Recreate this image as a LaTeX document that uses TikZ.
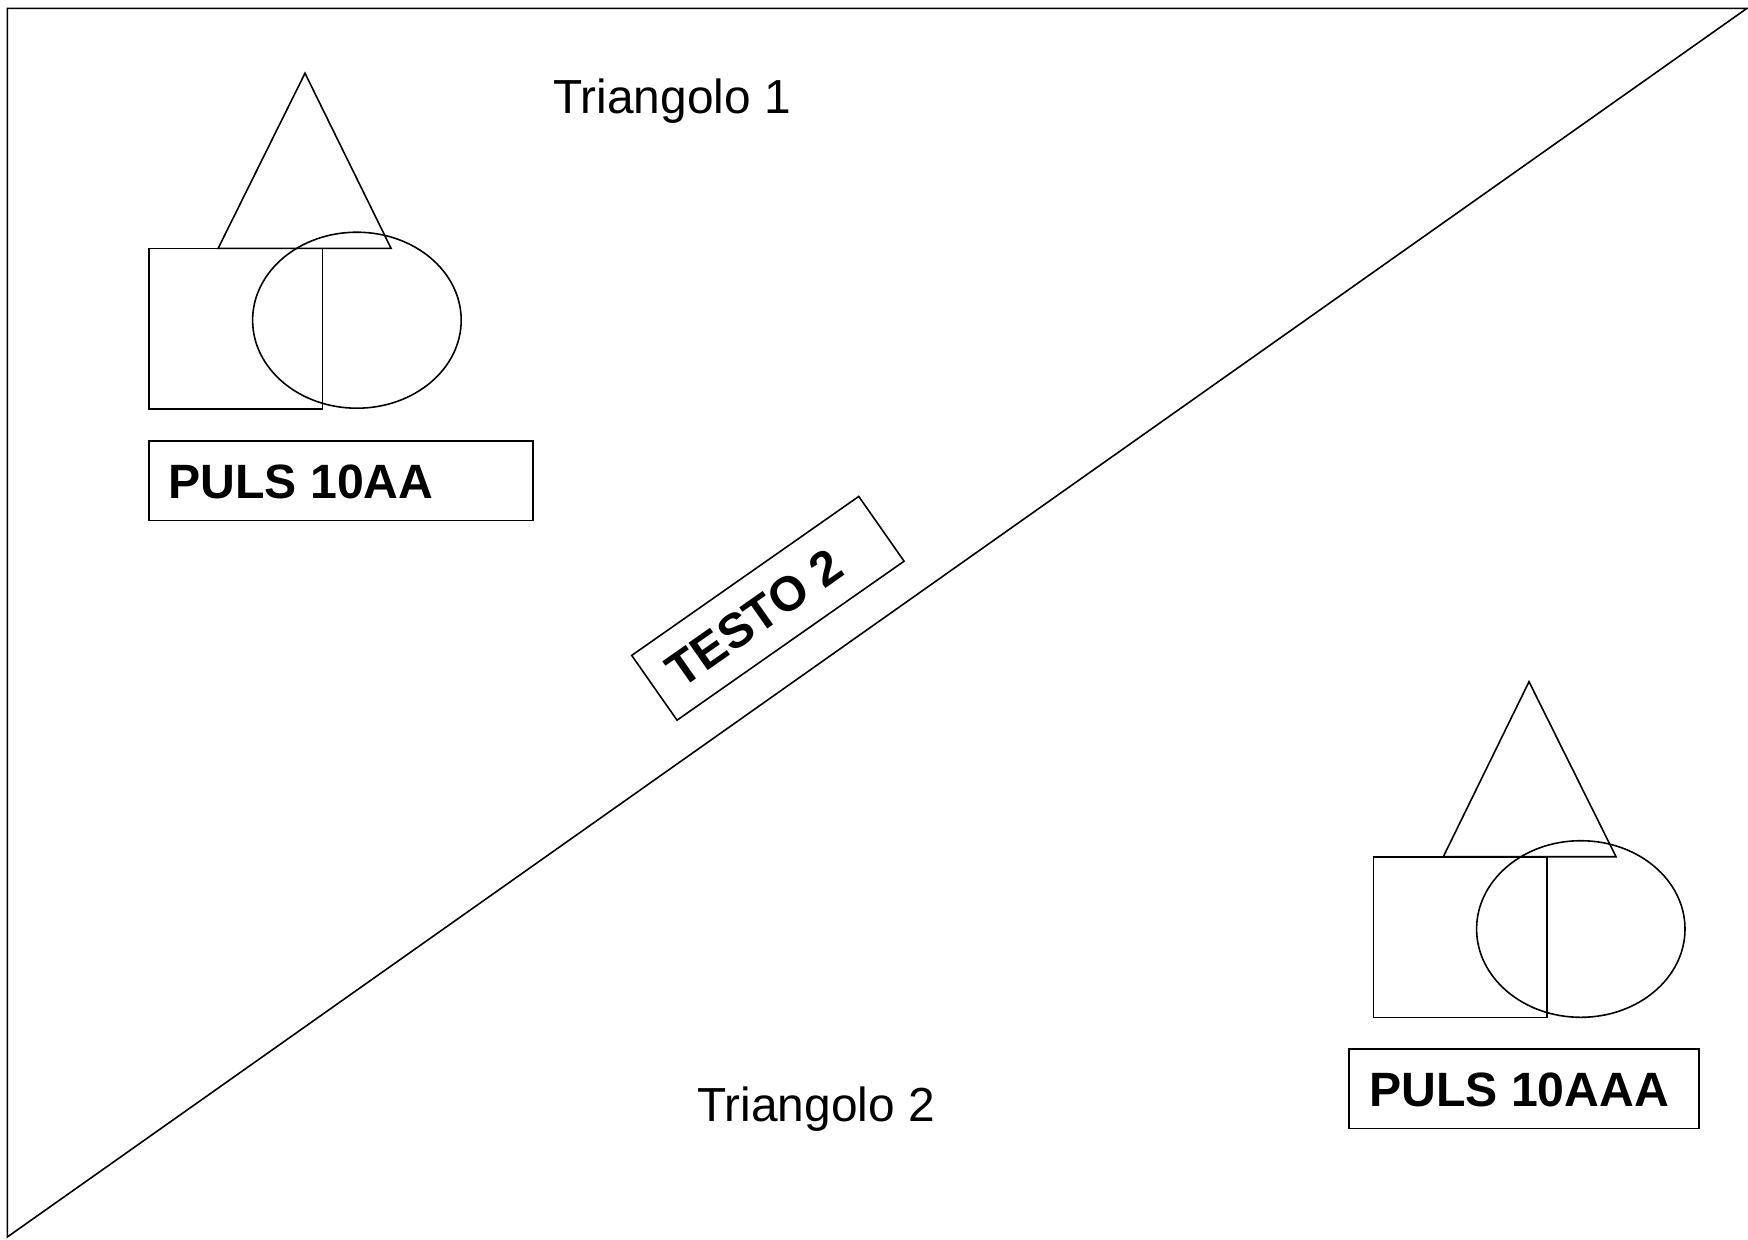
\documentclass[tikz,border=0pt]{standalone}
\usepackage{fontspec}
\setmainfont{Liberation Sans}
\usetikzlibrary{calc}

\begin{document}
\begin{tikzpicture}[x=0.01cm, y=-0.01cm, line width=0.45pt,
    % Stili
    forma/.style={
        draw=black, line width=0.45pt
    },
    titolo/.style={
        inner sep=0pt, anchor=base west,
        font=\fontsize{13.6}{16}\selectfont
    },
    puls/.style={
        inner sep=0pt, anchor=base west,
        font=\fontsize{13.7}{16}\selectfont\bfseries
    },
    targa/.style={
        draw=black, line width=0.45pt, rotate=35,
        minimum width=2.77cm, minimum height=0.79cm
    }
]
\useasboundingbox (0,0) rectangle (1748,1239);

% =============================================
% TRIANGOLO GRANDE
% =============================================
\coordinate (ao) at (7.3,8.3);
\coordinate (ad) at (1747,8.3);
\coordinate (bs) at (7.3,1237);
\draw[forma] (ao) -- (ad) -- (bs) -- cycle;

\node[titolo] (tri1) at (552.5,113.3) {Triangolo 1};
\node[titolo] (tri2) at (696.5,1121.7) {Triangolo 2};

% =============================================
% GRUPPO SINISTRO
% =============================================
\draw[forma] (305,73.2) -- (218.1,248.4) -- (391.1,248.4) -- cycle;
\draw[forma] (148.9,248.4) rectangle (322.6,408.9);
\draw[forma] (356.9,320.2) ellipse [x radius=104.3, y radius=88];

\draw[forma] (148.9,441.1) rectangle (533.1,520.4);
\node[puls] (puls1) at (167.6,498.2) {PULS 10AA};

% =============================================
% GRUPPO DESTRO
% =============================================
\draw[forma] (1529,681.7) -- (1443.3,856.7) -- (1616,856.7) -- cycle;
\draw[forma] (1373.3,856.7) rectangle (1546.7,1017.3);
\draw[forma] (1580.8,929) ellipse [x radius=104.2, y radius=88.3];

\draw[forma] (1349,1049) rectangle (1699,1128.3);
\node[puls] (puls2) at (1368.5,1106.7) {PULS 10AAA};

% =============================================
% TESTO INCLINATO
% =============================================
\node[targa] (testo) at (767.9,608.3) {};
\node[rotate=35, inner sep=0pt, font=\fontsize{13.8}{16}\selectfont\bfseries]
    (testotxt) at ($(testo.center)!0.12!(testo.west)$) {TESTO 2};

\end{tikzpicture}
\end{document}
